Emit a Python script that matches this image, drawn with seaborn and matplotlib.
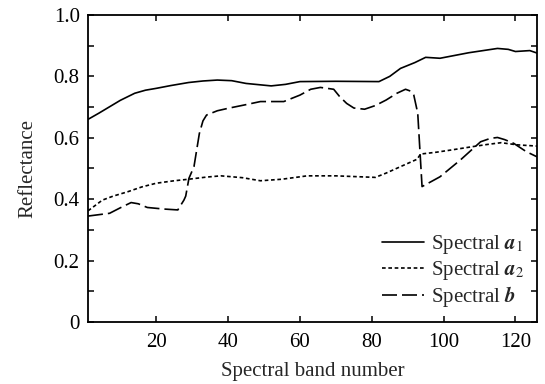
import numpy as np
import pandas as pd
import matplotlib
matplotlib.use("Agg")
import matplotlib.pyplot as plt
import seaborn as sns

# ---- data ----
band_a1 = [1, 4, 7, 10, 14, 17, 20, 24, 29, 33, 37, 41, 45, 52, 56, 60, 70, 82, 85, 88,
           92, 95, 99, 103, 107, 111, 115, 118, 120, 124, 126]
refl_a1 = [0.660, 0.680, 0.701, 0.722, 0.745, 0.755, 0.761, 0.770, 0.780, 0.785, 0.788,
           0.786, 0.777, 0.769, 0.774, 0.783, 0.784, 0.783, 0.800, 0.826, 0.845, 0.862,
           0.859, 0.868, 0.877, 0.884, 0.891, 0.888, 0.881, 0.884, 0.876]

band_a2 = [1, 5, 8, 12, 16, 20, 25, 29, 34, 38, 44, 49, 55, 62, 70, 81, 84, 88, 92.6,
           93.6, 98, 102, 108, 112, 116, 120.5, 126]
refl_a2 = [0.362, 0.397, 0.410, 0.424, 0.440, 0.452, 0.460, 0.465, 0.472, 0.476, 0.470,
           0.460, 0.465, 0.476, 0.476, 0.471, 0.485, 0.506, 0.530, 0.547, 0.553, 0.560,
           0.571, 0.578, 0.584, 0.577, 0.573]

band_b = [1, 7, 10, 13, 15, 17.5, 22, 26, 27.7, 28.2, 29.1, 30.5, 32, 33, 34, 37, 40, 45,
          49, 55.5, 60, 63, 65.7, 69.4, 71, 73, 75, 78, 81, 84, 87, 89.4, 90.8, 91.7, 92.8,
          93.4, 94, 99, 104.7, 110.3, 113, 115, 117, 119.5, 123, 126]
refl_b = [0.345, 0.354, 0.372, 0.389, 0.385, 0.373, 0.368, 0.365, 0.397, 0.410, 0.468,
          0.506, 0.614, 0.655, 0.674, 0.688, 0.696, 0.708, 0.718, 0.718, 0.739, 0.758,
          0.764, 0.758, 0.735, 0.712, 0.697, 0.693, 0.705, 0.723, 0.745, 0.758, 0.752,
          0.739, 0.680, 0.560, 0.441, 0.473, 0.528, 0.587, 0.598, 0.601, 0.594, 0.582,
          0.555, 0.538]

labels = [r"Spectral $\mathbfit{a}_{1}$", r"Spectral $\mathbfit{a}_{2}$", r"Spectral $\mathbfit{b}$"]

x_ticks = [20, 40, 60, 80, 100, 120]
y_ticks = [0, 0.2, 0.4, 0.6, 0.8, 1.0]
y_ticklabels = ["0", "0.2", "0.4", "0.6", "0.8", "1.0"]

df = pd.concat([
    pd.DataFrame({"band": band_a1, "refl": refl_a1, "series": labels[0]}),
    pd.DataFrame({"band": band_a2, "refl": refl_a2, "series": labels[1]}),
    pd.DataFrame({"band": band_b, "refl": refl_b, "series": labels[2]}),
])

sns.set_style("ticks")
plt.rcParams["font.family"] = ["Liberation Serif", "DejaVu Serif"]
plt.rcParams["mathtext.fontset"] = "stix"

fig = plt.figure(figsize=(5.45, 3.84), dpi=100)
ax = fig.add_axes([0.1615, 0.1615, 0.8238, 0.7995])

sns.lineplot(data=df, x="band", y="refl", hue="series", style="series",
             palette={l: "black" for l in labels},
             dashes={labels[0]: "", labels[1]: (2.2, 1.6), labels[2]: (9, 3)},
             linewidth=1.2, sort=False, estimator=None, ax=ax)

ax.set_xlim(1, 126)
ax.set_ylim(0, 1.0)
ax.set_xticks(x_ticks)
ax.set_xticklabels([str(t) for t in x_ticks])
ax.set_yticks(y_ticks)
ax.set_yticklabels(y_ticklabels)
ax.set_yticks(np.arange(0.1, 1.0, 0.2), minor=True)
ax.tick_params(axis="both", which="both", direction="in", top=True, right=True,
               length=4, width=1.1, labelsize=15, pad=6, colors="black")
ax.tick_params(axis="x", which="major", pad=8)
ax.tick_params(axis="x", which="minor", bottom=False, top=False)
for s in ax.spines.values():
    s.set_linewidth(1.3)
    s.set_color("black")

ax.set_xlabel("Spectral band number", fontsize=15, labelpad=7)
ax.set_ylabel("Reflectance", fontsize=15, labelpad=12)

leg = ax.legend(loc="lower right", bbox_to_anchor=(1.0, 0.0), frameon=False,
                fontsize=15, handlelength=2.0, handletextpad=0.35,
                labelspacing=0.12, borderaxespad=0.2)
for h in leg.get_lines():
    h.set_linewidth(1.2)

fig.savefig("out.png", dpi=100)
